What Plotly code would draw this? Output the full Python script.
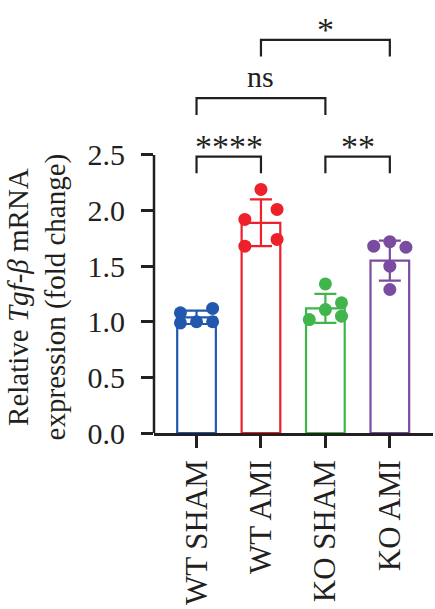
import plotly.graph_objects as go

# ---- data ----
groups = ["WT SHAM", "WT AMI", "KO SHAM", "KO AMI"]
means = [1.04, 1.89, 1.12, 1.55]
sds = [0.06, 0.21, 0.13, 0.18]
points_wt_sham = [1.08, 0.99, 1.00, 1.12, 1.00]
points_wt_ami = [2.19, 2.01, 1.92, 1.74, 1.68]
points_ko_sham = [1.34, 1.17, 1.11, 1.05, 1.02]
points_ko_ami = [1.68, 1.72, 1.67, 1.50, 1.29]
y_ticks = [0.0, 0.5, 1.0, 1.5, 2.0, 2.5]
comparisons = [(0, 1, "****", 0), (2, 3, "**", 0), (0, 2, "ns", 1), (1, 3, "*", 2)]

# ---- styling / layout ----
colors = ["#2158ad", "#ec2129", "#3fb54b", "#7a4c9f"]
jitter = [
    [-0.25, -0.25, 0.0, 0.25, 0.25],
    [0.0, 0.25, -0.25, 0.25, -0.25],
    [0.0, 0.25, 0.0, 0.25, -0.25],
    [-0.25, 0.0, 0.25, 0.0, 0.0],
]
all_points = [points_wt_sham, points_wt_ami, points_ko_sham, points_ko_ami]
dark = "#231f20"
font_family = "Liberation Serif, Times New Roman, serif"

fig = go.Figure()
for i, g in enumerate(groups):
    fig.add_trace(go.Bar(
        x=[i], y=[means[i]], width=0.6,
        marker=dict(color="rgba(255,255,255,0)", line=dict(color=colors[i], width=2.2)),
        error_y=dict(type="data", array=[sds[i]], visible=True,
                     color=colors[i], thickness=2.2, width=11),
        showlegend=False, hoverinfo="skip",
    ))
for i, g in enumerate(groups):
    fig.add_trace(go.Scatter(
        x=[i + d for d in jitter[i]], y=all_points[i], mode="markers",
        marker=dict(color=colors[i], size=13, line=dict(width=0)),
        showlegend=False, cliponaxis=False,
    ))

# significance brackets
base, step, leg = 2.485, 0.525, 0.15
shapes = []
annotations = []
for a, b, lab, lvl in comparisons:
    yb = base + step * lvl
    shapes.append(dict(type="path", xref="x", yref="y",
                       path=f"M {a},{yb - leg} L {a},{yb} L {b},{yb} L {b},{yb - leg}",
                       line=dict(color=dark, width=2.2)))
    is_ns = lab == "ns"
    annotations.append(dict(x=(a + b) / 2, y=yb, xref="x", yref="y", text=lab,
                            showarrow=False, yanchor="bottom", xanchor="center",
                            yshift=3 if is_ns else -10,
                            font=dict(family=font_family, size=30 if is_ns else 34, color=dark)))

# y axis line from 0 to 2.5 only
shapes.append(dict(type="line", xref="paper", yref="y", x0=0, x1=0, y0=0, y1=2.5,
                   line=dict(color=dark, width=2.5)))

annotations.append(dict(
    x=-0.419, y=1.22, xref="paper", yref="y",
    text="Relative <i>Tgf-β</i> mRNA<br>expression (fold change)",
    textangle=-90, showarrow=False, xanchor="center", yanchor="middle",
    font=dict(family=font_family, size=29, color=dark),
))

fig.update_layout(
    width=435, height=609,
    margin=dict(l=154, r=2, t=10, b=175.7),
    paper_bgcolor="white", plot_bgcolor="white",
    barmode="overlay",
    shapes=shapes, annotations=annotations,
    font=dict(family=font_family, color=dark),
    xaxis=dict(range=[-0.66, 3.67], tickvals=[0, 1, 2, 3], ticktext=groups,
               tickangle=-90, ticks="outside", ticklen=12, tickwidth=2.5, tickcolor=dark,
               showline=True, linewidth=2.5, linecolor=dark,
               showgrid=False, zeroline=False,
               tickfont=dict(family=font_family, size=31, color=dark)),
    yaxis=dict(range=[0, 3.803], tickvals=y_ticks, ticktext=[f"{v:.1f}" for v in y_ticks],
               ticks="outside", ticklen=12, tickwidth=2.5, tickcolor=dark,
               showline=False, showgrid=False, zeroline=False,
               ticklabelstandoff=10,
               tickfont=dict(family=font_family, size=30, color=dark)),
)

fig.write_html("out.html")
